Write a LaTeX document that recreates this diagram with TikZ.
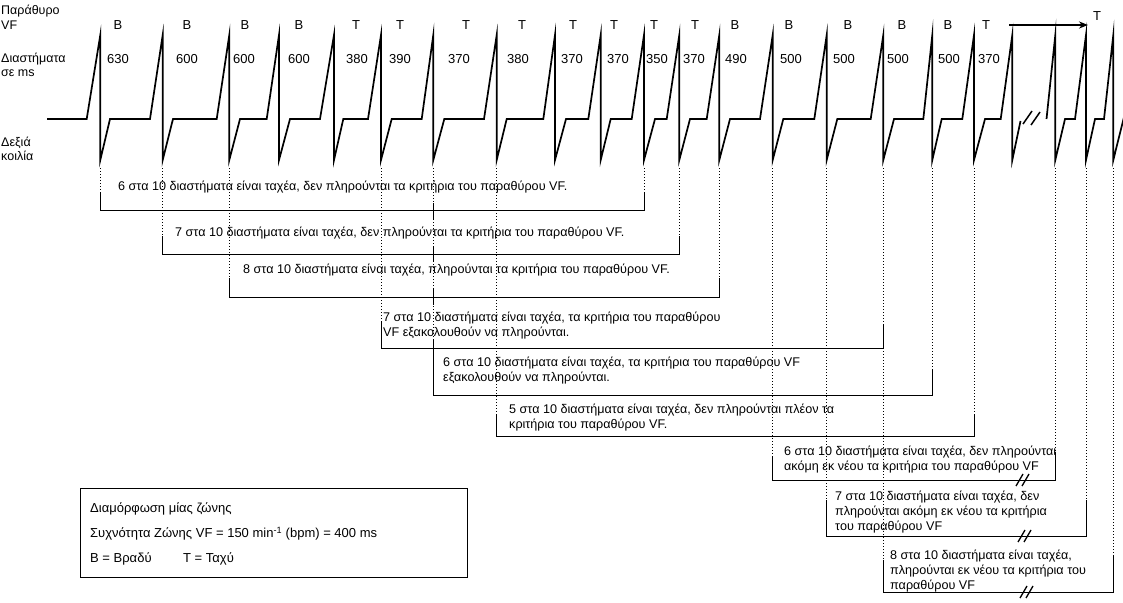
\documentclass[tikz,border=0pt]{standalone}
\usepackage{fontspec}
\setmainfont{Liberation Sans}
\usetikzlibrary{arrows.meta}
\begin{document}
\begin{tikzpicture}[x=1pt,y=-1pt,
 wave/.style={line width=1.7pt, line join=miter, miter limit=20},
 brk/.style={line width=0.9pt},
 dotl/.style={line width=0.9pt, dash pattern=on 1.3pt off 1.7pt},
 slash/.style={line width=1.5pt},
 toplbl/.style={font=\fontsize{13}{15}\selectfont, inner sep=0},
 sidelbl/.style={font=\fontsize{12.5}{14}\selectfont, inner sep=0, anchor=base west},
 note/.style={font=\fontsize{12.6}{15}\selectfont, inner sep=0, anchor=north west, align=left},
 legend/.style={font=\fontsize{13}{15}\selectfont, inner sep=0, anchor=base west},
]
\fill[white] (0,0) rectangle (1123,602);
\useasboundingbox (0,0) rectangle (1123,602);

% side labels
\node[sidelbl] (l1) at (1,14.5) {Παράθυρο};
\node[sidelbl] (l2) at (1,29.5) {VF};
\node[sidelbl] (l3) at (1,63) {Διαστήματα};
\node[sidelbl] (l4) at (1,76.5) {σε ms};
\node[sidelbl] (l5) at (1,146) {Δεξιά};
\node[sidelbl] (l6) at (1,160) {κοιλία};

% B/T labels
\foreach \x/\t [count=\i] in {118/B,187/B,245/B,299/B,356/T,400/T,466/T,522/T,573/T,614/T,654/T,695/T,735/B,789/B,848/B,902/B,948/B,986/T}
  \node[toplbl] (bt\i) at (\x,25) {\t};
\node[toplbl] (btend) at (1097,16) {T};
% interval labels
\foreach \x/\t [count=\i] in {118/630,187/600,244/600,299/600,357/380,400/390,459/370,518/380,572/370,618/370,657/350,694/370,736/490,791/500,844/500,898/500,949/500,989/370}
  \node[toplbl] (iv\i) at (\x,59) {\t};

% arrow
\coordinate (a1) at (1009,25);
\coordinate (a2) at (1088,25);
\draw[line width=1.8pt,-{Stealth[length=9pt,width=7pt]}] (a1) -- (a2);

% waveform
\draw[wave] (47,119) -- (86.7,119) -- (100.3,35) -- (100.3,160) -- (110,119)
 -- (150,119) -- (162.7,35) -- (162.7,160) -- (173,119)
 -- (216.7,119) -- (229.3,35) -- (229.3,160) -- (240,119)
 -- (266.7,119) -- (279,35) -- (279,160) -- (290,119)
 -- (320,119) -- (334,35) -- (334,160) -- (343.3,119)
 -- (368,119) -- (381,35) -- (381,160) -- (391.7,119)
 -- (421.7,119) -- (433.3,35) -- (433.3,160) -- (444.3,119)
 -- (484,119) -- (496.7,35) -- (496.7,160) -- (506.7,119)
 -- (543.3,119) -- (555,35) -- (555,160) -- (566,119)
 -- (588.3,119) -- (600.7,35) -- (600.7,160) -- (610.7,119)
 -- (631.7,119) -- (644,35) -- (644,160) -- (655,119)
 -- (666.7,119) -- (679.3,35) -- (679.3,160) -- (690,119)
 -- (706.7,119) -- (719.3,35) -- (719.3,160) -- (730,119)
 -- (760,119) -- (772.7,35) -- (772.7,160) -- (783.3,119)
 -- (814.3,119) -- (826.7,35) -- (826.7,160) -- (837.3,119)
 -- (870.7,119) -- (883.3,35) -- (883.3,160) -- (894,119)
 -- (923.3,119) -- (932.3,35) -- (932.3,160) -- (941.7,119)
 -- (962.3,119) -- (974,35) -- (974,160) -- (985,119)
 -- (1000.7,119) -- (1012.3,35) -- (1012.3,160) -- (1020.5,121);
\draw[wave] (1046.5,119) -- (1055.3,35) -- (1055.3,160) -- (1065,119)
 -- (1075,119) -- (1086,35) -- (1086,160) -- (1095,119)
 -- (1104,119) -- (1113.3,35) -- (1113.3,160) -- (1124,117);
\draw[slash] (1023,124) -- (1032,111);
\draw[slash] (1031,125) -- (1040,112);

% dotted drop lines
\foreach \x/\yb in {100.3/210,162.7/254,229.3/297,381/348,433.3/395,496.7/436,644/210,679.3/254,719.3/297,772.7/480,826.7/536,883.3/592,932.3/395,974/436,1055.3/480,1086/536,1113.3/592}
  \draw[dotl] (\x,168) -- (\x,\yb);
% solid pieces on the S7 line
\foreach \ya/\yb in {203/219,246/262,289/305}
  \draw[brk] (433.3,\ya) -- (433.3,\yb);

% brackets
\draw[brk] (100.3,192) -- (100.3,210) -- (644,210) -- (644,192);
\draw[brk] (162.7,236) -- (162.7,254) -- (679.3,254) -- (679.3,236);
\draw[brk] (229.3,278) -- (229.3,297) -- (719.3,297) -- (719.3,278);
\draw[brk] (381,322) -- (381,348) -- (883.3,348) -- (883.3,324);
\draw[brk] (433.3,340) -- (433.3,395) -- (932.3,395) -- (932.3,370);
\draw[brk] (496.7,414) -- (496.7,436) -- (974,436) -- (974,414);
\draw[brk] (772.7,456) -- (772.7,480) -- (1055.3,480) -- (1055.3,452);
\draw[brk] (826.7,500) -- (826.7,536) -- (1086,536) -- (1086,500);
\draw[brk] (883.3,560) -- (883.3,592) -- (1113.3,592) -- (1113.3,555);
% break marks on brackets
\foreach \xx/\yy in {1022/480,1024/536,1026/592}{
  \draw[slash,line width=1.3pt] (\xx-6,\yy+6) -- (\xx+1,\yy-6);
  \draw[slash,line width=1.3pt] (\xx,\yy+6) -- (\xx+7,\yy-6);
}

% bracket texts
\node[note] (n1) at (118,179.5) {\strut 6 στα 10 διαστήματα είναι ταχέα, δεν πληρούνται τα κριτήρια του παραθύρου VF.};
\node[note] (n2) at (175,225.5) {\strut 7 στα 10 διαστήματα είναι ταχέα, δεν πληρούνται τα κριτήρια του παραθύρου VF.};
\node[note] (n3) at (243,262.5) {\strut 8 στα 10 διαστήματα είναι ταχέα, πληρούνται τα κριτήρια του παραθύρου VF.};
\node[note] (n4) at (383,310.5) {\strut 7 στα 10 διαστήματα είναι ταχέα, τα κριτήρια του παραθύρου\\VF εξακολουθούν να πληρούνται.};
\node[note] (n5) at (443,355.5) {\strut 6 στα 10 διαστήματα είναι ταχέα, τα κριτήρια του παραθύρου VF\\εξακολουθούν να πληρούνται.};
\node[note] (n6) at (509,402.5) {\strut 5 στα 10 διαστήματα είναι ταχέα, δεν πληρούνται πλέον τα\\κριτήρια του παραθύρου VF.};
\node[note] (n7) at (784,444.5) {\strut 6 στα 10 διαστήματα είναι ταχέα, δεν πληρούνται\\ακόμη εκ νέου τα κριτήρια του παραθύρου VF};
\node[note] (n8) at (835,489.5) {\strut 7 στα 10 διαστήματα είναι ταχέα, δεν\\πληρούνται ακόμη εκ νέου τα κριτήρια\\του παραθύρου VF};
\node[note] (n9) at (890,548.5) {\strut 8 στα 10 διαστήματα είναι ταχέα,\\πληρούνται εκ νέου τα κριτήρια του\\παραθύρου VF};

% legend box
\draw[brk] (80,488) rectangle (467,577);
\node[legend] (g1) at (90,512) {Διαμόρφωση μίας ζώνης};
\node[legend] (g2) at (90,537.5) {Συχνότητα Ζώνης VF = 150 min\textsuperscript{-1} (bpm) = 400 ms};
\node[legend] (g3) at (90,562) {B = Βραδύ};
\node[legend] (g4) at (183,562) {T = Ταχύ};
\end{tikzpicture}
\end{document}
